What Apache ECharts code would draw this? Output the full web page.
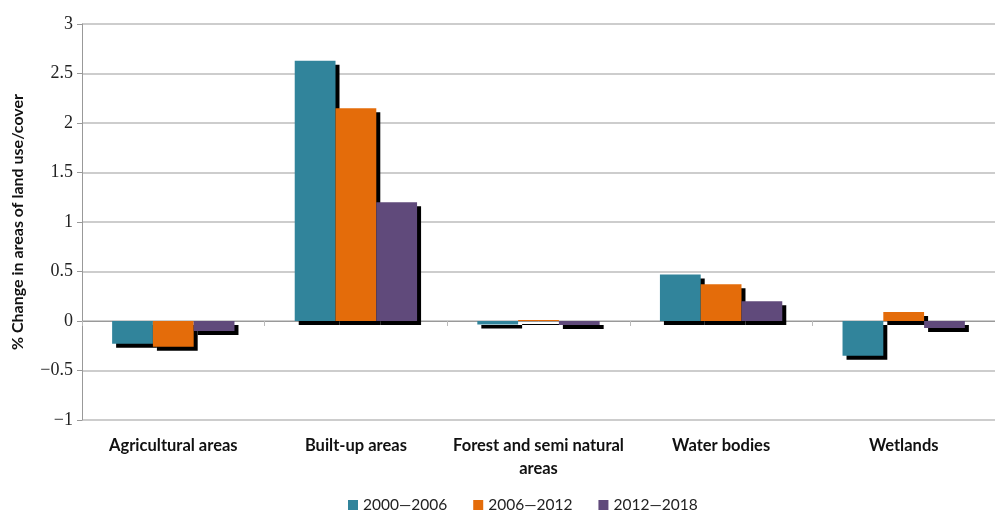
<!DOCTYPE html>
<html>
<head>
<meta charset="utf-8">
<style>
  html, body { margin: 0; padding: 0; background: #fff; }
  #chart { width: 995px; height: 513px; }
</style>
</head>
<body>
<div id="chart"></div>
<script src="https://cdn.jsdelivr.net/npm/echarts@6/dist/echarts.min.js"></script>
<script>
var categories = ['Agricultural areas', 'Built-up areas', 'Forest and semi natural\nareas', 'Water bodies', 'Wetlands'];
var period1 = [-0.23, 2.63, -0.035, 0.47, -0.35];
var period2 = [-0.26, 2.15, 0.01, 0.37, 0.09];
var period3 = [-0.10, 1.20, -0.04, 0.20, -0.07];
var seriesNames = ['2000\u20142006', '2006\u20142012', '2012\u20142018'];
var colors = ['#31849b', '#e46c0a', '#604a7b'];

var chart = echarts.init(document.getElementById('chart'));

function makeBar(name, data, color) {
    return {
        name: name,
        type: 'bar',
        data: data,
        xAxisIndex: 0,
        barGap: '0%',
        barCategoryGap: '33%',
        itemStyle: {
            color: color,
            shadowColor: '#000',
            shadowBlur: 0,
            shadowOffsetX: 4,
            shadowOffsetY: 4
        }
    };
}

// plot area runs past the right edge, as in the original image
var option = {
    animation: false,
    color: colors,
    grid: { left: 82, right: -13, top: 24, bottom: 93 },
    legend: {
        bottom: -5,
        left: 343,
        itemWidth: 10,
        itemHeight: 10,
        itemGap: 26,
        icon: 'rect',
        textStyle: { fontFamily: 'Lato', fontSize: 15.5, color: '#222' },
        data: seriesNames
    },
    xAxis: [{
        type: 'category',
        data: categories,
        position: 'bottom',
        axisLine: { show: false, onZero: false },
        axisTick: { show: false },
        axisLabel: {
            interval: 0,
            fontFamily: 'Lato',
            fontWeight: 'bold',
            fontSize: 16.5,
            color: '#111',
            margin: 14,
            lineHeight: 23
        }
    }, {
        type: 'category',
        data: categories,
        position: 'bottom',
        axisLine: { show: true, onZero: true, lineStyle: { color: '#999', width: 1 } },
        axisTick: { show: true, length: 5, lineStyle: { color: '#bbb' } },
        axisLabel: { show: false }
    }],
    yAxis: {
        type: 'value',
        min: -1,
        max: 3,
        interval: 0.5,
        name: '% Change in areas of land use/cover',
        nameLocation: 'middle',
        nameGap: 56,
        nameTextStyle: { fontFamily: 'Lato', fontWeight: 'bold', fontSize: 16, color: '#111' },
        axisLine: { show: true, lineStyle: { color: '#999' } },
        axisTick: { show: true, length: 5, lineStyle: { color: '#999' } },
        splitLine: { lineStyle: { color: '#bdbdbd', width: 1.5 } },
        axisLabel: {
            fontFamily: 'Liberation Serif',
            fontSize: 18,
            color: '#222',
            margin: 9,
            formatter: function (v) { return String(v).replace('-', '\u2212'); }
        }
    },
    series: [
        makeBar(seriesNames[0], period1, colors[0]),
        makeBar(seriesNames[1], period2, colors[1]),
        makeBar(seriesNames[2], period3, colors[2])
    ]
};
chart.setOption(option);
</script>
</body>
</html>
